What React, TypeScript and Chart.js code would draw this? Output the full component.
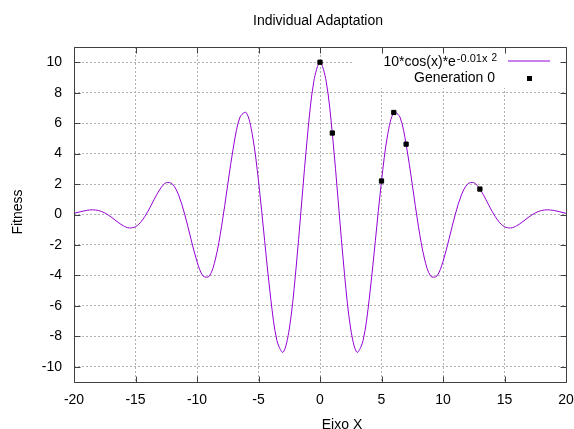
import React, { useEffect, useRef } from "react";
import { Chart, registerables } from "chart.js";

Chart.register(...registerables);

const curveX = [
  -20, -19.5, -19, -18.5, -18, -17.5, -17, -16.5, -16, -15.5, -15, -14.5, -14, -13.5, -13, -12.5, -12, -11.5, -11, -10.5,
  -10, -9.5, -9, -8.5, -8, -7.5, -7, -6.5, -6, -5.5, -5, -4.5, -4, -3.5, -3, -2.5, -2, -1.5, -1, -0.5,
  0, 0.5, 1, 1.5, 2, 2.5, 3, 3.5, 4, 4.5, 5, 5.5, 6, 6.5, 7, 7.5, 8, 8.5, 9, 9.5,
  10, 10.5, 11, 11.5, 12, 12.5, 13, 13.5, 14, 14.5, 15, 15.5, 16, 16.5, 17, 17.5, 18, 18.5, 19, 19.5, 20,
];
const curveY = [
  0.075, 0.178, 0.267, 0.307, 0.259, 0.103, -0.153, -0.462, -0.74, -0.885, -0.801, -0.434, 0.193, 0.962, 1.674, 2.092, 1.999, 1.288, 0.013, -1.579,
  -3.087, -4.044, -4.053, -2.923, -0.767, 1.975, 4.619, 6.401, 6.699, 5.237, 2.209, -1.722, -5.57, -8.285, -9.048, -7.526, -3.998, 0.692, 5.349, 8.754,
  10, 8.754, 5.349, 0.692, -3.998, -7.526, -9.048, -8.285, -5.57, -1.722, 2.209, 5.237, 6.699, 6.401, 4.619, 1.975, -0.767, -2.923, -4.053, -4.044,
  -3.087, -1.579, 0.013, 1.288, 1.999, 2.092, 1.674, 0.962, 0.193, -0.434, -0.801, -0.885, -0.74, -0.462, -0.153, 0.103, 0.259, 0.307, 0.267, 0.178, 0.075,
];
const genX = [0, 1, 5, 6, 7, 13];
const genY = [10, 5.35, 2.2, 6.7, 4.62, 1.67];
const xTicks = [-20, -15, -10, -5, 0, 5, 10, 15, 20];
const yTicks = [-10, -8, -6, -4, -2, 0, 2, 4, 6, 8, 10];

const titleText = "Individual Adaptation";
const xLabel = "Eixo X";
const yLabel = "Fitness";
const curveLabelMain = "10*cos(x)*e";
const curveLabelSup = "-0.01x";
const curveLabelSup2 = "2";
const genLabel = "Generation 0";

const FONT = '"Liberation Sans", Arial, sans-serif';
const CURVE_COLOR = "#9400d3";

const gnuPlugin = {
  id: "gnuframe",
  beforeDatasetsDraw(chart: any) {
    const { ctx, chartArea: a } = chart;
    ctx.save();
    ctx.fillStyle = "#ffffff";
    ctx.fillRect(352, a.top + 1, a.right - 352 - 1, 40);
    ctx.restore();
  },
  afterDraw(chart: any) {
    const { ctx, chartArea: a } = chart;
    const xs = chart.scales.x;
    const ys = chart.scales.y;
    const L = Math.round(a.left) + 0.5;
    const R = Math.round(a.right) + 0.5;
    const T = Math.round(a.top) + 0.5;
    const B = Math.round(a.bottom) + 0.5;
    ctx.save();
    ctx.strokeStyle = "#404040";
    ctx.lineWidth = 1;
    ctx.beginPath();
    ctx.rect(L, T, R - L, B - T);
    const tl = 6;
    for (const v of xTicks) {
      const px = Math.round(xs.getPixelForValue(v)) + 0.5;
      ctx.moveTo(px, B);
      ctx.lineTo(px, B - tl);
      ctx.moveTo(px, T);
      ctx.lineTo(px, T + tl);
    }
    for (const v of yTicks) {
      const py = Math.round(ys.getPixelForValue(v)) + 0.5;
      ctx.moveTo(L, py);
      ctx.lineTo(L + tl, py);
      ctx.moveTo(R, py);
      ctx.lineTo(R - tl, py);
    }
    ctx.stroke();

    ctx.fillStyle = "#000";
    ctx.font = `14px ${FONT}`;
    ctx.textAlign = "center";
    ctx.textBaseline = "middle";
    ctx.fillText(titleText, 318, 21);
    ctx.textBaseline = "alphabetic";
    ctx.fillText(xLabel, 342, 429);
    ctx.save();
    ctx.translate(18, 212);
    ctx.rotate(-Math.PI / 2);
    ctx.textBaseline = "middle";
    ctx.fillText(yLabel, 0, 0);
    ctx.restore();

    ctx.textAlign = "left";
    ctx.textBaseline = "alphabetic";
    ctx.font = `14px ${FONT}`;
    const mainW = ctx.measureText(curveLabelMain).width;
    ctx.font = `11px ${FONT}`;
    const supW = ctx.measureText(curveLabelSup).width;
    ctx.font = `10px ${FONT}`;
    const sup2W = ctx.measureText(curveLabelSup2).width;
    const endX = 497;
    const startX = endX - (mainW + 1 + supW + 4 + sup2W);
    ctx.font = `14px ${FONT}`;
    ctx.fillText(curveLabelMain, startX, 66);
    ctx.font = `11px ${FONT}`;
    ctx.fillText(curveLabelSup, startX + mainW + 1, 62);
    ctx.font = `10px ${FONT}`;
    ctx.fillText(curveLabelSup2, startX + mainW + 1 + supW + 4, 61);

    ctx.strokeStyle = CURVE_COLOR;
    ctx.lineWidth = 1;
    ctx.beginPath();
    ctx.moveTo(508, 61);
    ctx.lineTo(550, 61);
    ctx.stroke();

    ctx.font = `14px ${FONT}`;
    ctx.textAlign = "right";
    ctx.fillText(genLabel, 495, 82);
    ctx.fillStyle = "#000";
    ctx.fillRect(527, 76, 5, 5);
    ctx.restore();
  },
};

export default function App() {
  const ref = useRef<HTMLCanvasElement | null>(null);
  useEffect(() => {
    if (!ref.current) return;
    const chart = new Chart(ref.current, {
      type: "scatter",
      data: {
        datasets: [
          {
            label: genLabel,
            data: genX.map((x, i) => ({ x, y: genY[i] })),
            pointStyle: "rect",
            pointRadius: 3,
            pointBorderWidth: 1,
            pointBackgroundColor: "#000",
            pointBorderColor: "#000",
            showLine: false,
            order: 0,
          },
          {
            label: "curve",
            data: curveX.map((x, i) => ({ x, y: curveY[i] })),
            showLine: true,
            borderColor: CURVE_COLOR,
            borderWidth: 1,
            pointRadius: 0,
            tension: 0.33,
            order: 1,
          },
        ],
      },
      options: {
        responsive: false,
        animation: false,
        devicePixelRatio: 1,
        events: [],
        layout: { padding: { top: 47, right: 8, left: 0, bottom: 0 } },
        plugins: {
          legend: { display: false },
          title: { display: false },
          tooltip: { enabled: false },
        },
        scales: {
          x: {
            type: "linear",
            min: -20,
            max: 20,
            afterBuildTicks: (s: any) => {
              s.ticks = xTicks.map((v) => ({ value: v }));
            },
            afterFit: (s: any) => {
              s.height = 47;
              s.paddingLeft = 0;
              s.paddingRight = 0;
            },
            ticks: {
              font: { family: FONT, size: 14 },
              color: "#000",
              padding: 10,
              maxRotation: 0,
              autoSkip: false,
            },
            grid: { color: "#b0b0b0", lineWidth: 1, drawTicks: false },
            border: { display: false, dash: [2, 2] },
          },
          y: {
            type: "linear",
            min: -11,
            max: 11,
            afterBuildTicks: (s: any) => {
              s.ticks = yTicks.map((v) => ({ value: v }));
            },
            afterFit: (s: any) => {
              s.width = 74;
              s.paddingTop = 0;
              s.paddingBottom = 0;
            },
            ticks: {
              font: { family: FONT, size: 14 },
              color: "#000",
              padding: 12,
              autoSkip: false,
            },
            grid: { color: "#b0b0b0", lineWidth: 1, drawTicks: false },
            border: { display: false, dash: [2, 2] },
          },
        },
      },
      plugins: [gnuPlugin],
    });
    return () => chart.destroy();
  }, []);
  return (
    <div style={{ position: "fixed", left: 0, top: 0, width: 574, height: 429, background: "#fff" }}>
      <canvas ref={ref} width={574} height={429} style={{ display: "block" }} />
    </div>
  );
}
